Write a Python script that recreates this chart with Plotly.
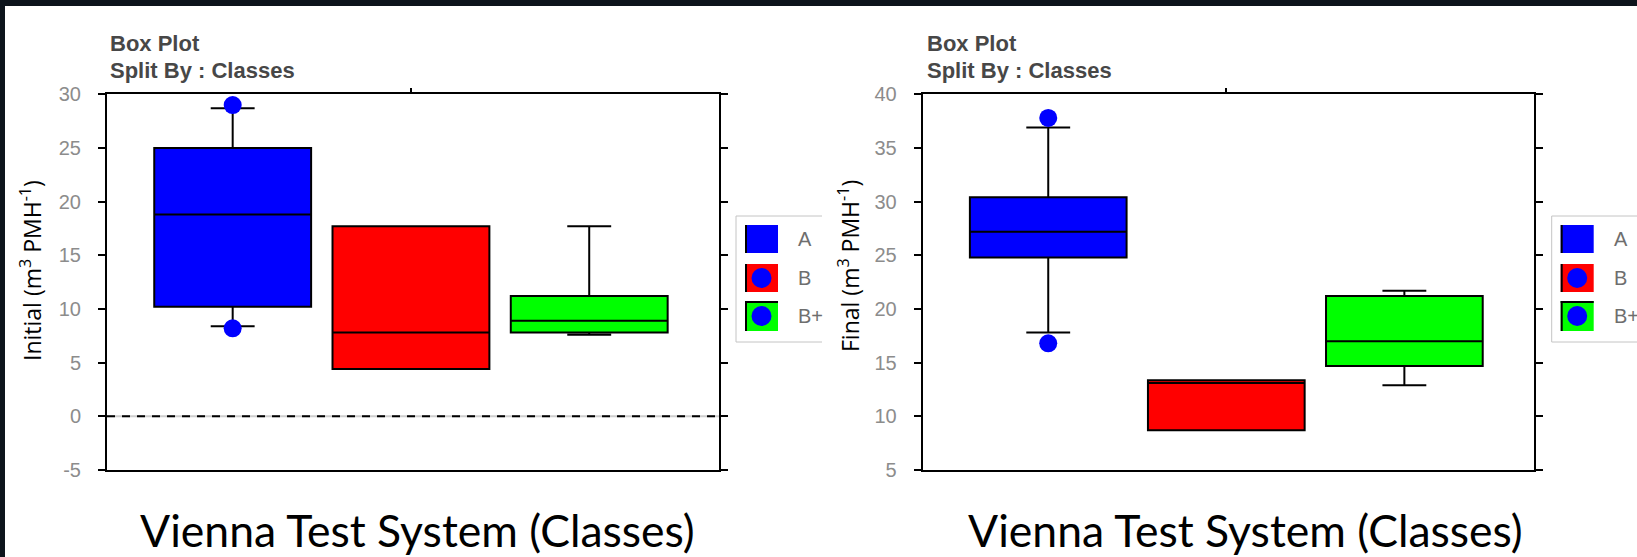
import plotly.graph_objects as go

# ---------------- data ----------------
categories = ["A", "B", "B+"]

initial_q1 = [10.2, 4.4, 7.8]
initial_median = [18.8, 7.8, 8.9]
initial_q3 = [25.0, 17.7, 11.2]
initial_lower = [8.4, 4.4, 7.6]
initial_upper = [28.7, 17.7, 17.7]
initial_outlier_cat = ["A", "A"]
initial_outlier_val = [8.2, 29.0]

final_q1 = [24.8, 8.7, 14.7]
final_median = [27.2, 13.1, 17.0]
final_q3 = [30.4, 13.35, 21.2]
final_lower = [17.8, 8.7, 12.9]
final_upper = [36.9, 13.35, 21.7]
final_outlier_cat = ["A", "A"]
final_outlier_val = [16.8, 37.8]

initial_ticks = [-5, 0, 5, 10, 15, 20, 25, 30]
final_ticks = [5, 10, 15, 20, 25, 30, 35, 40]

box_colors = {"A": "#0000ff", "B": "#ff0000", "B+": "#00ff00"}
caption = "Vienna Test System (Classes)"

# ---------------- layout helpers ----------------
W, H = 1637, 557
BG = "#0d141c"


def px(x):
    return x / W


def py(y):
    return 1 - y / H


pos = {c: i + 1 for i, c in enumerate(categories)}

fig = go.Figure()


def add_panel(q1, med, q3, lo, hi, ocat, oval, xa, ya):
    for i, c in enumerate(categories):
        fig.add_trace(go.Box(
            x=[pos[c]], q1=[q1[i]], median=[med[i]], q3=[q3[i]],
            lowerfence=[lo[i]], upperfence=[hi[i]],
            width=0.88, whiskerwidth=0.28,
            fillcolor=box_colors[c],
            line=dict(color="black", width=2),
            boxpoints=False, showlegend=False, name=c,
            xaxis=xa, yaxis=ya,
        ))
    fig.add_trace(go.Scatter(
        x=[pos[c] for c in ocat], y=oval, mode="markers",
        marker=dict(color="#0000ff", size=18, symbol="circle"),
        showlegend=False, xaxis=xa, yaxis=ya, cliponaxis=False,
    ))


add_panel(initial_q1, initial_median, initial_q3, initial_lower, initial_upper,
          initial_outlier_cat, initial_outlier_val, "x", "y")
add_panel(final_q1, final_median, final_q3, final_lower, final_upper,
          final_outlier_cat, final_outlier_val, "x2", "y2")

tickfont = dict(family="Liberation Sans, Arial", size=20, color="#8c8c8c")
xcommon = dict(range=[0.295, 3.728], showgrid=False, zeroline=False,
               showline=True, linecolor="black", linewidth=2, mirror=True,
               side="top", ticks="outside", tickvals=[2], ticklen=4,
               tickwidth=2, tickcolor="black", showticklabels=False,
               fixedrange=True, automargin=False)
ycommon = dict(showgrid=False, zeroline=False, showline=True,
               linecolor="black", linewidth=2, mirror="ticks",
               ticks="outside", ticklen=7, tickwidth=2, tickcolor="black",
               tickfont=tickfont, ticklabelstandoff=13, fixedrange=True,
               automargin=False)

ydom = [py(470), py(94.3)]
fig.update_layout(
    width=W, height=H,
    margin=dict(l=0, r=0, t=0, b=0, pad=0, autoexpand=False),
    paper_bgcolor=BG, plot_bgcolor="white",
    xaxis=dict(domain=[px(107), px(719)], anchor="y", **xcommon),
    yaxis=dict(domain=ydom, anchor="x", range=[initial_ticks[0], initial_ticks[-1]],
               tickvals=initial_ticks, ticktext=[str(v) for v in initial_ticks],
               **ycommon),
    xaxis2=dict(domain=[px(922.7), px(1534)], anchor="y2", **xcommon),
    yaxis2=dict(domain=ydom, anchor="x2", range=[final_ticks[0], final_ticks[-1]],
                tickvals=final_ticks, ticktext=[str(v) for v in final_ticks],
                **ycommon),
    showlegend=False,
)

shapes = []
# white slide panel
shapes.append(dict(type="rect", xref="paper", yref="paper", x0=px(5), x1=1.01,
                   y0=-0.01, y1=py(6), fillcolor="white", line=dict(width=0),
                   layer="below"))
# zero reference line (left chart)
shapes.append(dict(type="line", xref="x domain", yref="y", x0=0, x1=1, y0=0, y1=0,
                   line=dict(color="#cfcfcf", width=2), layer="above"))
shapes.append(dict(type="line", xref="x domain", yref="y", x0=0, x1=1, y0=0, y1=0,
                   line=dict(color="black", width=2, dash="8px,7px"), layer="above"))


def legend(x0, x_clip):
    top, bot = 216, 342
    shapes.append(dict(type="line", xref="paper", yref="paper", x0=px(x0), x1=px(x_clip),
                       y0=py(top), y1=py(top), line=dict(color="#c4c4c4", width=1)))
    shapes.append(dict(type="line", xref="paper", yref="paper", x0=px(x0), x1=px(x_clip),
                       y0=py(bot), y1=py(bot), line=dict(color="#c4c4c4", width=1)))
    shapes.append(dict(type="line", xref="paper", yref="paper", x0=px(x0), x1=px(x0),
                       y0=py(top), y1=py(bot), line=dict(color="#c4c4c4", width=1)))
    sx0, sx1 = x0 + 9, x0 + 42
    rows = [(225, 253), (264, 292), (301, 331)]
    for (r0, r1), c in zip(rows, categories):
        shapes.append(dict(type="rect", xref="paper", yref="paper", x0=px(sx0), x1=px(sx1),
                           y0=py(r1), y1=py(r0), fillcolor=box_colors[c],
                           line=dict(width=0)))
        shapes.append(dict(type="line", xref="paper", yref="paper", x0=px(sx0 + 1), x1=px(sx0 + 1),
                           y0=py(r1), y1=py(r0), line=dict(color="black", width=2)))
        if c != "A":
            cx, cy = (sx0 + sx1) / 2, (r0 + r1) / 2
            shapes.append(dict(type="circle", xref="paper", yref="paper",
                               x0=px(cx - 10), x1=px(cx + 10), y0=py(cy + 10), y1=py(cy - 10),
                               fillcolor="#0000ff", line=dict(width=0)))
        if c == "B+":
            shapes.append(dict(type="line", xref="paper", yref="paper", x0=px(sx0), x1=px(sx1),
                               y0=py(r0 + 1), y1=py(r0 + 1), line=dict(color="black", width=2)))
        fig.add_annotation(x=px(sx1 + 18), y=py((r0 + r1) / 2), xref="paper", yref="paper",
                           text=c, showarrow=False, xanchor="left", yanchor="middle",
                           font=dict(family="Liberation Sans, Arial", size=20, color="#6e6e6e"))


legend(736, 822)
legend(1551.7, 1640)

fig.update_layout(shapes=shapes)

# titles, axis labels and captions
for xl in (108, 925):
    fig.add_annotation(x=px(xl), y=py(43), xref="paper", yref="paper", text="<b>Box Plot</b>",
                       showarrow=False, xanchor="left", yanchor="middle",
                       font=dict(family="Liberation Sans, Arial", size=22, color="#474747"))
    fig.add_annotation(x=px(xl), y=py(70), xref="paper", yref="paper",
                       text="<b>Split By : Classes</b>",
                       showarrow=False, xanchor="left", yanchor="middle",
                       font=dict(family="Liberation Sans, Arial", size=22, color="#474747"))

fig.add_annotation(x=px(31), y=py(271), xref="paper", yref="paper",
                   text="Initial (m<sup>3</sup> PMH<sup>-1</sup>)", textangle=-90,
                   showarrow=False, xanchor="center", yanchor="middle",
                   font=dict(family="Open Sans", size=23, color="black"))
fig.add_annotation(x=px(849), y=py(266), xref="paper", yref="paper",
                   text="Final (m<sup>3</sup> PMH<sup>-1</sup>)", textangle=-90,
                   showarrow=False, xanchor="center", yanchor="middle",
                   font=dict(family="Open Sans", size=23, color="black"))

for cx in (418, 1245):
    fig.add_annotation(x=px(cx), y=py(529), xref="paper", yref="paper", text=caption,
                       showarrow=False, xanchor="center", yanchor="middle",
                       font=dict(family="Lato", size=44.5, color="black"))

fig.write_html("out.html",
               config={"displayModeBar": False, "staticPlot": True},
               post_script="document.body.style.margin='0px';"
                           "document.body.style.overflow='hidden';")
